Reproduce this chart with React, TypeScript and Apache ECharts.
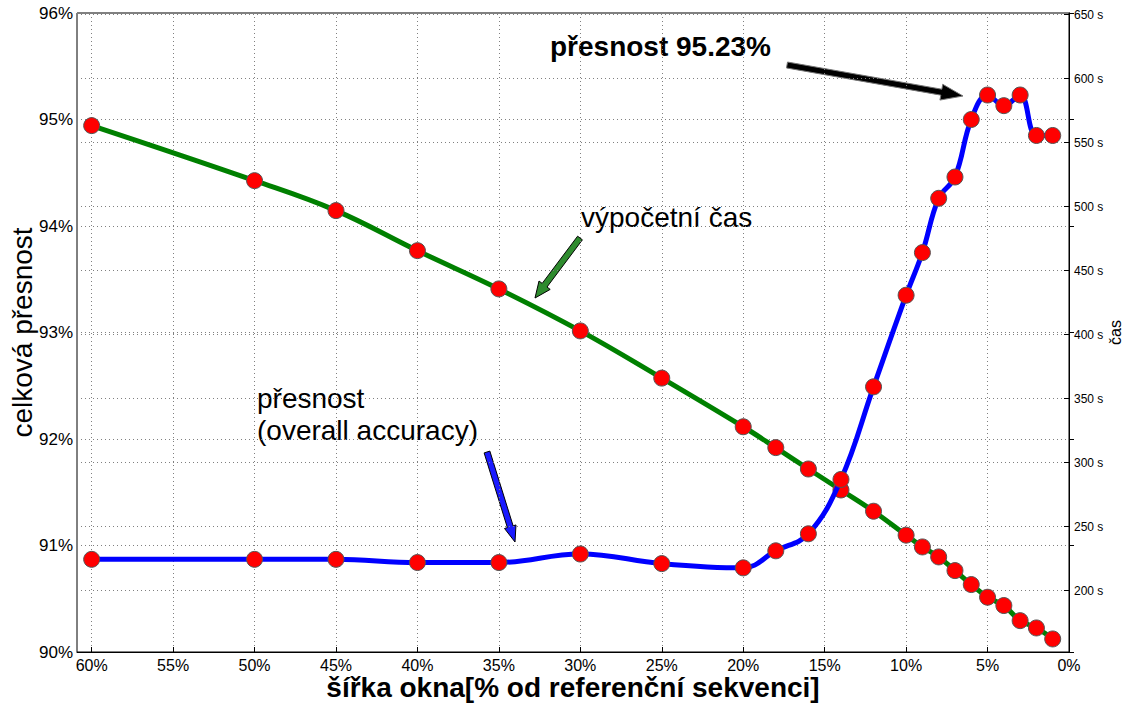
import React, { useEffect, useRef } from "react";
import * as echarts from "echarts";

// window width in % of the reference sequence
const windowPct = [60, 50, 45, 40, 35, 30, 25, 20, 18, 16, 14, 12, 10, 9, 8, 7, 6, 5, 4, 3, 2, 1];
// overall accuracy in %
const accuracy = [90.87, 90.87, 90.87, 90.84, 90.84, 90.92, 90.83, 90.79, 90.95, 91.11, 91.62, 92.49, 93.35, 93.75, 94.26, 94.46, 95.0, 95.23, 95.13, 95.23, 94.85, 94.85];
// computing time in seconds
const timeSec = [563.3, 520.3, 496.9, 465.6, 435.7, 402.9, 366, 328, 311.7, 295, 278.6, 262, 243.3, 234.1, 226.3, 215.6, 204.7, 194.8, 188.3, 176.5, 170.8, 162.2];

const xTicks = [0, 5, 10, 15, 20, 25, 30, 35, 40, 45, 50, 55, 60];
const accTicks = [90, 91, 92, 93, 94, 95, 96];
const timeTicks = [200, 250, 300, 350, 400, 450, 500, 550, 600, 650];

const FONT = "'Liberation Sans', Arial, Helvetica, sans-serif";

function arrowPts(x1: number, y1: number, x2: number, y2: number, w: number, hl: number, hw: number) {
  const dx = x2 - x1, dy = y2 - y1;
  const len = Math.hypot(dx, dy);
  const ux = dx / len, uy = dy / len;
  const nx = -uy, ny = ux;
  const bx = x2 - ux * hl, by = y2 - uy * hl;
  return [
    [x1 + (nx * w) / 2, y1 + (ny * w) / 2],
    [bx + (nx * w) / 2, by + (ny * w) / 2],
    [bx + (nx * hw) / 2, by + (ny * hw) / 2],
    [x2, y2],
    [bx - (nx * hw) / 2, by - (ny * hw) / 2],
    [bx - (nx * w) / 2, by - (ny * w) / 2],
    [x1 - (nx * w) / 2, y1 - (ny * w) / 2],
  ];
}

export default function App() {
  const ref = useRef<HTMLDivElement>(null);
  useEffect(() => {
    if (!ref.current) return;
    const chart = echarts.init(ref.current, null, { renderer: "svg" });
    const grid = { left: 77, right: 58, top: 13, bottom: 54 };
    const gridLine = { show: true, lineStyle: { color: "#808080", width: 1, type: [1, 3] as any } };
    const accData = windowPct.map((x, i) => [x, accuracy[i]]);
    const timeData = windowPct.map((x, i) => [x, timeSec[i]]);
    const marker = { color: "#ff0000", borderColor: "#555", borderWidth: 1 };
    chart.setOption({
      animation: false,
      backgroundColor: "#ffffff",
      textStyle: { fontFamily: FONT },
      grid: {
        ...grid,
        containLabel: false,
        outerBoundsMode: "none",
        show: true,
        borderColor: "#000",
        borderWidth: 1,
        backgroundColor: "transparent",
      },
      xAxis: {
        type: "value",
        inverse: true,
        min: 0,
        max: 60.9,
        name: "šířka okna[% od referenční sekvenci]",
        nameLocation: "middle",
        nameGap: 21,
        nameMoveOverlap: false,
        nameTextStyle: { fontFamily: FONT, fontSize: 28, fontWeight: "bold", color: "#000" },
        axisLine: { show: true, lineStyle: { color: "#000", width: 1 } },
        axisTick: { show: true, inside: true, length: 5, customValues: xTicks, lineStyle: { color: "#000" } },
        axisLabel: {
          customValues: xTicks,
          formatter: (v: number) => `${v}%`,
          color: "#000",
          fontSize: 16,
          margin: 5,
          fontFamily: "'Liberation Sans Narrow', 'Liberation Sans', Arial, sans-serif",
        },
        splitLine: gridLine,
      },
      yAxis: [
        {
          type: "value",
          min: 90,
          max: 96,
          interval: 1,
          position: "left",
          name: "celková přesnost",
          nameLocation: "middle",
          nameRotate: 90,
          nameGap: 41,
          nameMoveOverlap: false,
          nameTextStyle: { fontFamily: FONT, fontSize: 28, color: "#000" },
          axisLine: { show: true, lineStyle: { color: "#000", width: 1 } },
          axisTick: { show: true, inside: true, length: 5, lineStyle: { color: "#000" } },
          axisLabel: {
            formatter: (v: number) => `${v}%`,
            color: "#000",
            fontSize: 17,
            margin: 4,
          },
          splitLine: gridLine,
        },
        {
          type: "value",
          min: 152,
          max: 651.3,
          position: "right",
          name: "čas",
          nameLocation: "middle",
          nameRotate: 90,
          nameGap: 38,
          nameMoveOverlap: false,
          nameTextStyle: { fontFamily: FONT, fontSize: 16, color: "#000" },
          axisLine: { show: true, lineStyle: { color: "#000", width: 1 } },
          axisTick: { show: true, inside: true, length: 5, customValues: timeTicks, lineStyle: { color: "#000" } },
          axisLabel: {
            customValues: timeTicks,
            formatter: (v: number) => `${v} s`,
            color: "#000",
            fontSize: 12,
            margin: 5,
          },
          splitLine: gridLine,
        },
      ],
      series: [
        {
          name: "výpočetní čas",
          type: "line",
          yAxisIndex: 1,
          data: timeData,
          smooth: 0.4,
          symbol: "circle",
          symbolSize: 16,
          lineStyle: { color: "#008000", width: 5 },
          itemStyle: marker,
          z: 2,
        },
        {
          name: "přesnost",
          type: "line",
          yAxisIndex: 0,
          data: accData,
          smooth: 0.4,
          symbol: "circle",
          symbolSize: 16,
          lineStyle: { color: "#0000ff", width: 5 },
          itemStyle: marker,
          z: 3,
        },
      ],
      graphic: [
        {
          type: "text",
          x: 550,
          y: 46,
          style: { text: "přesnost 95.23%", font: `bold 28px ${FONT}`, fill: "#000", align: "left", verticalAlign: "middle" },
        },
        {
          type: "polygon",
          shape: { points: arrowPts(787, 65, 963, 96, 6, 22, 16) },
          style: { fill: "#000", stroke: "#777", lineWidth: 1 },
        },
        {
          type: "text",
          x: 581,
          y: 217,
          style: { text: "výpočetní čas", font: `28px ${FONT}`, fill: "#000", align: "left", verticalAlign: "middle" },
        },
        {
          type: "polygon",
          shape: { points: arrowPts(580, 238, 535, 298, 6, 16, 14) },
          style: { fill: "#2e8b2e", stroke: "#000", lineWidth: 1 },
        },
        {
          type: "text",
          x: 257,
          y: 398,
          style: { text: "přesnost", font: `28px ${FONT}`, fill: "#000", align: "left", verticalAlign: "middle" },
        },
        {
          type: "text",
          x: 257,
          y: 430,
          style: { text: "(overall accuracy)", font: `28px ${FONT}`, fill: "#000", align: "left", verticalAlign: "middle" },
        },
        {
          type: "polygon",
          shape: { points: arrowPts(487, 452, 515, 542, 6, 16, 12) },
          style: { fill: "#1a1aff", stroke: "#000", lineWidth: 1 },
        },
      ],
    });
    return () => chart.dispose();
  }, []);
  return (
    <div
      ref={ref}
      style={{ position: "absolute", left: 0, top: 0, width: 1127, height: 706, background: "#fff" }}
    />
  );
}
